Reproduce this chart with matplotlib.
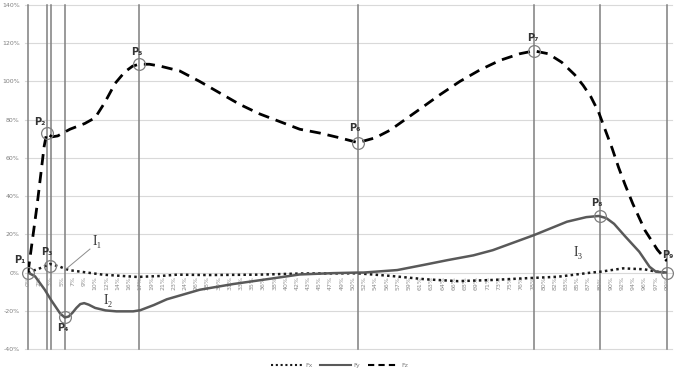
import matplotlib
matplotlib.use("Agg")
import matplotlib.pyplot as plt
from matplotlib.lines import Line2D

# --- data (x in % of cycle, forces in %) ---
fz_x = [0, 1.4, 2.5, 2.9, 3.3, 3.7, 4.6, 6.5, 8.8, 10.4, 11.9, 13.5, 15.0, 16.2,
        17.2, 18.8, 20.5, 23.5, 26.6, 29.7, 32.8, 35.9, 39.0, 42.1, 45.2, 48.3,
        51.1, 53.8, 56.1, 58.4, 60.7, 63.8, 66.9, 70.0, 73.1, 76.2, 78.4, 80.6,
        82.7, 84.7, 86.0, 87.2, 88.4, 89.5, 90.5, 91.5, 92.5, 93.7, 95.6, 97.5, 99.0]
fz_y = [0, 35, 66, 73, 72, 71, 71.5, 75, 78, 81, 89, 99, 105, 108,
        109, 109, 108, 105.5, 100, 94, 88, 83, 79, 75, 73, 70.5,
        68, 70.5, 74.5, 80, 85.5, 93, 100, 106, 111, 114.5, 116, 114.5,
        110, 103.5, 98, 92, 84, 74, 65, 55, 46, 36, 22, 12, 6]

fy_x = [0, 1.1, 2.6, 3.6, 4.4, 5.0, 5.7, 6.3, 6.9, 7.5, 8.1, 8.7, 9.4, 10.4,
        12.0, 13.7, 16.3, 17.4, 19.5, 21.5, 26.6, 31.8, 37.0, 42.1, 47.3, 51.1,
        52.0, 57.2, 61.3, 65.0, 69.0, 72.0, 78.4, 83.5, 86.5, 88.4, 89.6, 90.8,
        92.5, 94.7, 96.3, 97.3, 99.0]
fy_y = [0, -2, -9, -14.5, -18.5, -21.5, -23.5, -23, -21, -18.5, -16.5, -16, -16.8,
        -18.5, -19.8, -20.3, -20.3, -19.7, -17, -14, -9, -6, -3.5, -1, -0.3, 0,
        0, 1.3, 4, 6.5, 9, 11.7, 19.6, 26.6, 29, 29.6, 28.5, 25.5, 19, 10.9, 3,
        0.4, 0]

fx_x = [0, 1.9, 3.4, 5.0, 5.7, 6.5, 11.6, 16.9, 20.5, 23.1, 27.9, 35.7, 42.4, 51.1,
        56.3, 61.5, 66.6, 71.8, 77.0, 82.1, 87.3, 88.6, 92.2, 95.5, 97.3, 99.0]
fx_y = [0, 2.3, 4.5, 3, 2, 1.2, -1.1, -2.3, -1.8, -1.1, -1.3, -1.1, -0.5, -0.4,
        -1.8, -3.5, -4.5, -3.9, -3.0, -2.2, 0, 0.4, 2.2, 1.7, 0.5, 0]

# key points P1..P9
p_x = [0, 2.9, 3.4, 5.7, 17.2, 51.1, 78.4, 88.6, 99.0]
p_y = [0, 73, 3.5, -23, 109, 68, 116, 29.6, 0]
p_line_x = [0, 3.0, 3.5, 5.7, 17.2, 51.1, 78.4, 88.6, 99.0]
p_lbl_x = [-1.2, 1.9, 2.9, 5.4, 16.8, 50.7, 78.2, 88.1, 99.2]
p_lbl_y = [6.5, 79, 11, -29, 115.6, 75.7, 122.8, 36.2, 9.2]
p_names = ["P\u2081", "P\u2082", "P\u2083", "P\u2084", "P\u2085",
           "P\u2086", "P\u2087", "P\u2088", "P\u2089"]

x_ticks = [0, 1.74, 3.47, 5.21, 6.95, 8.68, 10.42, 12.16, 13.89, 15.63, 17.37,
           19.11, 20.84, 22.58, 24.32, 26.05, 27.79, 29.53, 31.26, 33.0, 34.74,
           36.47, 38.21, 39.95, 41.68, 43.42, 45.16, 46.89, 48.63, 50.37, 52.11,
           53.84, 55.58, 57.32, 59.05, 60.79, 62.53, 64.26, 66.0, 67.74, 69.47,
           71.21, 72.95, 74.68, 76.42, 78.16, 79.89, 81.63, 83.37, 85.11, 86.84,
           88.58, 90.32, 92.05, 93.79, 95.53, 97.26, 99.0]
x_labels = ["0%", "2%", "3%", "5%", "7%", "9%", "10%", "12%", "14%", "16%", "17%",
            "19%", "21%", "23%", "24%", "26%", "28%", "30%", "31%", "33%", "35%",
            "36%", "38%", "40%", "42%", "43%", "45%", "47%", "49%", "50%", "52%",
            "54%", "56%", "57%", "59%", "61%", "63%", "64%", "66%", "68%", "69%",
            "71%", "73%", "75%", "76%", "78%", "80%", "82%", "83%", "85%", "87%",
            "89%", "90%", "92%", "94%", "96%", "97%", "99%"]
y_ticks = [-40, -20, 0, 20, 40, 60, 80, 100, 120, 140]

fig = plt.figure(figsize=(6.8, 3.72), dpi=100)
ax = fig.add_axes([28 / 680, 1 - 349 / 372, 639 / 680, 344 / 372])
ax.set_xlim(0, 99)
ax.set_ylim(-40, 140)

for s in ax.spines.values():
    s.set_visible(False)

# horizontal grid
for v in y_ticks:
    ax.plot([-0.5, 99.8], [v, v], color="#d9d9d9", lw=0.8, zorder=0, clip_on=False)
ax.set_yticks(y_ticks)
ax.set_yticklabels([f"{v}%" for v in y_ticks], fontsize=4.5, color="#7f7f7f")
ax.tick_params(axis="y", length=0, pad=6)
ax.set_xticks([])

# category labels along the zero line
for t, lab in zip(x_ticks, x_labels):
    ax.text(t, -1.8, lab, rotation=90, ha="center", va="top", fontsize=4.5,
            color="#8c8c8c")

# vertical event lines
for xv in p_line_x:
    ax.plot([xv, xv], [-40, 140], color="#7f7f7f", lw=1.1, zorder=1, clip_on=False)

ax.plot(fx_x, fx_y, color="#1a1a1a", lw=1.8, ls=(0, (1, 1.3)), zorder=3, label="Fx")
ax.plot(fy_x, fy_y, color="#595959", lw=1.8, zorder=3, label="Fy")
ax.plot(fz_x, fz_y, color="black", lw=2.0, ls=(0, (4, 2.5)), zorder=3, label="Fz")

ax.plot(p_x, p_y, ls="none", marker="o", ms=8.5, mfc="none", mec="#7f7f7f",
        mew=0.9, zorder=4, clip_on=False)
for lx, ly, name in zip(p_lbl_x, p_lbl_y, p_names):
    ax.text(lx, ly, name, ha="center", va="center", fontsize=7, color="#333333",
            fontweight="bold", zorder=5)

serif = ["Liberation Serif", "DejaVu Serif"]
ax.plot([5.7, 9.6], [1.3, 12.3], color="#8c8c8c", lw=0.7, zorder=4)
ax.text(10.8, 16, "I\u2081", family=serif, fontsize=10, color="#333333",
        ha="center", va="center")
ax.text(12.4, -14.4, "I\u2082", family=serif, fontsize=10, color="#333333",
        ha="center", va="center")
ax.text(85.2, 10.7, "I\u2083", family=serif, fontsize=10, color="#333333",
        ha="center", va="center")

handles = [Line2D([], [], color="#1a1a1a", lw=1.5, ls=(0, (1, 1.3))),
           Line2D([], [], color="#595959", lw=1.5),
           Line2D([], [], color="black", lw=1.5, ls=(0, (3, 2)))]
fig.legend(handles, ["Fx", "Fy", "Fz"], loc="lower center", ncol=3,
           bbox_to_anchor=(0.5, -0.005), frameon=False, fontsize=4.5,
           handlelength=5, columnspacing=1.2, handletextpad=0.4,
           labelcolor="#7f7f7f")

fig.savefig("out.png", dpi=100)
